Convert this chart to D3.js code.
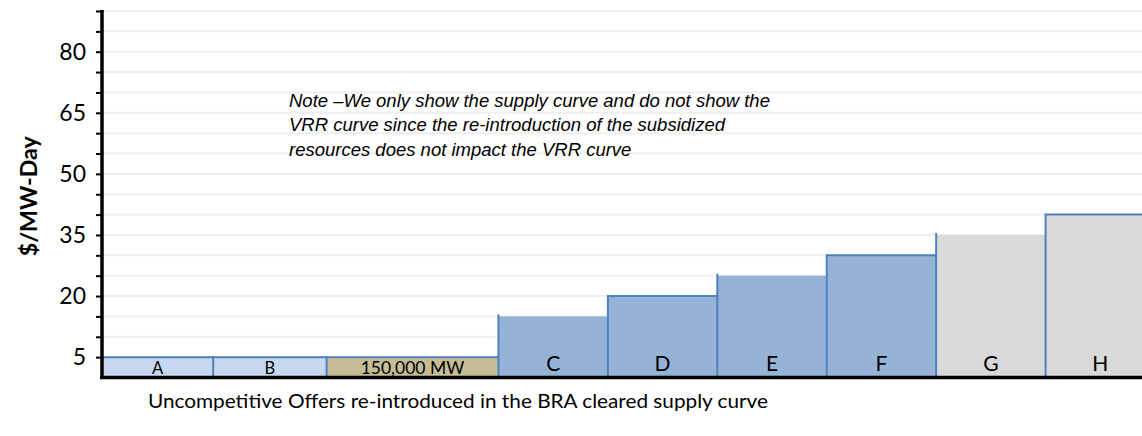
<!DOCTYPE html>
<html>
<head>
<meta charset="utf-8">
<script src="https://cdn.jsdelivr.net/npm/d3@7"></script>
<style>
  html, body { margin: 0; padding: 0; background: #fff; overflow: hidden; }
  svg { display: block; }
</style>
</head>
<body>
<script>
// ---- data ----
const categories = ["A", "B", "150,000 MW", "C", "D", "E", "F", "G", "H"];
const offerMW    = [97000, 99000, 150000, 95500, 95500, 95500, 95500, 95500, 95500];
const priceValues = [5, 5, 5, 15, 20, 25, 30, 35, 40];
const yTickLabels = [5, 20, 35, 50, 65, 80];
const noteLines = [
  "Note \u2013We only show the supply curve and do not show the",
  "VRR curve since the re-introduction of the subsidized",
  "resources does not impact the VRR curve"
];
const xTitle = "Uncompetitive Offers re-introduced in the BRA cleared supply curve";
const yTitle = "$/MW-Day";

// ---- styles (kept separate from data) ----
const fillColors = ["#c6d9f1", "#c6d9f1", "#c4bd97", "#95b3d7", "#95b3d7", "#95b3d7", "#95b3d7", "#d9d9d9", "#d9d9d9"];
const hasTopBorder = [true, true, true, false, true, false, true, false, true];
const labelSizes = [16.5, 16.5, 17.5, 21, 21, 21, 21, 21, 21];
const borderColor = "#4f81bd";

const W = 1142, H = 436;
const svg = d3.select("body").append("svg").attr("width", W).attr("height", H);

const x0 = 102, plotRight = 1155;
const totalMW = d3.sum(offerMW);
const x = d3.scaleLinear().domain([0, totalMW]).range([x0, plotRight]);
const y = d3.scaleLinear().domain([0, 90]).range([377.5, 11]);

// cumulative segments
let acc = 0;
const segs = categories.map((c, i) => {
  const s = { name: c, start: acc, end: acc + offerMW[i], value: priceValues[i], i };
  acc += offerMW[i];
  return s;
});

// gridlines every 5
const gridVals = d3.range(5, 91, 5);
svg.append("g").selectAll("line").data(gridVals).join("line")
  .attr("x1", x0).attr("x2", W)
  .attr("y1", d => y(d)).attr("y2", d => y(d))
  .attr("stroke", "#efefef").attr("stroke-width", 2);

// bars
const gBars = svg.append("g");
gBars.selectAll("rect").data(segs).join("rect")
  .attr("x", d => x(d.start))
  .attr("y", d => y(d.value))
  .attr("width", d => x(d.end) - x(d.start))
  .attr("height", d => y(0) - y(d.value))
  .attr("fill", d => fillColors[d.i]);

// left borders
gBars.selectAll("line.left").data(segs).join("line").attr("class", "left")
  .attr("x1", d => x(d.start)).attr("x2", d => x(d.start))
  .attr("y1", y(0)).attr("y2", d => y(d.value) - (hasTopBorder[d.i] ? 1 : 2))
  .attr("stroke", borderColor).attr("stroke-width", 2);

// top borders
gBars.selectAll("line.top").data(segs.filter(d => hasTopBorder[d.i])).join("line").attr("class", "top")
  .attr("x1", d => x(d.start)).attr("x2", d => x(d.end))
  .attr("y1", d => y(d.value)).attr("y2", d => y(d.value))
  .attr("stroke", borderColor).attr("stroke-width", 2);

// bar labels
gBars.selectAll("text").data(segs).join("text")
  .attr("x", d => (x(d.start) + x(d.end)) / 2)
  .attr("y", d => labelSizes[d.i] > 18 ? 371 : 373.5)
  .attr("text-anchor", "middle")
  .attr("font-family", "Lato, 'Open Sans', sans-serif")
  .attr("font-size", d => labelSizes[d.i])
  .attr("fill", "#000")
  .text(d => d.name);

// y axis
const yAxis = d3.axisLeft(y).tickValues(gridVals).tickSize(6).tickFormat(d => yTickLabels.includes(d) ? d : "");
const gy = svg.append("g").attr("transform", `translate(${x0},0)`).call(yAxis);
gy.select(".domain").remove();
gy.selectAll(".tick line").attr("stroke", "#000").attr("stroke-width", 2);
gy.selectAll(".tick text")
  .attr("x", -16)
  .attr("font-family", "Lato, 'Open Sans', sans-serif")
  .attr("font-size", 23)
  .attr("fill", "#000");
svg.append("line").attr("x1", x0).attr("x2", x0).attr("y1", 10).attr("y2", y(0) + 1.5)
  .attr("stroke", "#000").attr("stroke-width", 3.5);

// x axis line
svg.append("line").attr("x1", x0 - 2).attr("x2", W).attr("y1", y(0)).attr("y2", y(0))
  .attr("stroke", "#000").attr("stroke-width", 3.5);

// note
const note = svg.append("text")
  .attr("font-family", "'Liberation Sans', Arial, sans-serif")
  .attr("font-style", "italic")
  .attr("font-size", 18.5)
  .attr("fill", "#000");
noteLines.forEach((t, i) => {
  note.append("tspan").attr("x", 289).attr("y", 107 + i * 24.3).text(t);
});

// y title
svg.append("text")
  .attr("transform", `translate(37,${(y(0) + y(90)) / 2 + 2}) rotate(-90)`)
  .attr("text-anchor", "middle")
  .attr("font-family", "Lato, 'Open Sans', sans-serif")
  .attr("font-weight", "bold")
  .attr("font-size", 22)
  .attr("textLength", 120)
  .attr("lengthAdjust", "spacingAndGlyphs")
  .attr("fill", "#000")
  .text(yTitle);

// x title
svg.append("text")
  .attr("x", 148).attr("y", 408)
  .attr("font-family", "Lato, 'Open Sans', sans-serif")
  .attr("font-size", 20)
  .attr("textLength", 620)
  .attr("lengthAdjust", "spacingAndGlyphs")
  .attr("fill", "#000")
  .text(xTitle);
</script>
</body>
</html>
